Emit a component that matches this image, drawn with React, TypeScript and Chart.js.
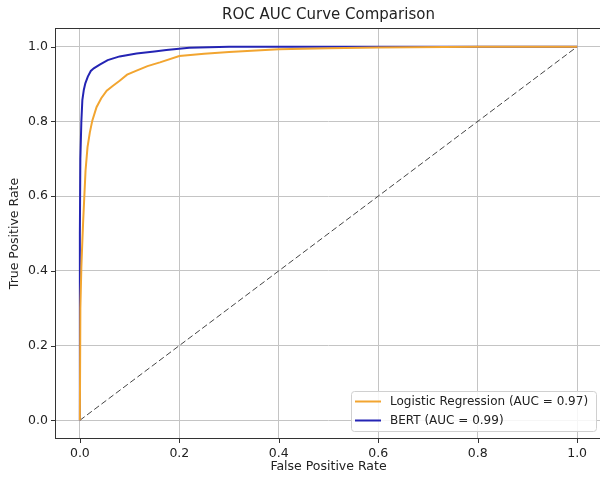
import React, { useEffect, useRef } from "react";
import { Chart, registerables } from "chart.js";

Chart.register(...registerables);

const lrFpr = [0, 0.001, 0.003, 0.005, 0.0067, 0.0114, 0.0154, 0.02, 0.025, 0.0335, 0.043, 0.054, 0.066, 0.08, 0.095, 0.114, 0.136, 0.161, 0.2, 0.25, 0.3, 0.4, 0.5, 0.6, 0.8, 1.0];
const lrTpr = [0, 0.3, 0.41, 0.48, 0.535, 0.668, 0.731, 0.77, 0.802, 0.838, 0.862, 0.882, 0.895, 0.909, 0.925, 0.936, 0.948, 0.958, 0.975, 0.981, 0.986, 0.993, 0.996, 0.998, 1.0, 1.0];

const bertFpr = [0, 0, 0.001, 0.003, 0.005, 0.008, 0.011, 0.016, 0.022, 0.028, 0.04, 0.056, 0.08, 0.114, 0.15, 0.174, 0.22, 0.3, 0.5, 1.0];
const bertTpr = [0, 0.5, 0.7, 0.8, 0.857, 0.885, 0.902, 0.92, 0.935, 0.942, 0.952, 0.964, 0.974, 0.982, 0.987, 0.991, 0.997, 1.0, 1.0, 1.0];

const diagX = [0, 1];
const diagY = [0, 1];

const tickValues = [0, 0.2, 0.4, 0.6, 0.8, 1.0];

const seriesNames = ["Logistic Regression (AUC = 0.97)", "BERT (AUC = 0.99)"];
const seriesColors = ["#f2a530", "#2424b4"];

const titleText = "ROC AUC Curve Comparison";
const xTitle = "False Positive Rate";
const yTitle = "True Positive Rate";

const FONT = "'DejaVu Sans', sans-serif";
const TXT = "#222";

const zip = (xs: number[], ys: number[]) => xs.map((x, i) => ({ x, y: ys[i] }));

const decor = {
  id: "decor",
  afterDraw(chart: any) {
    const { ctx, chartArea: a, scales } = chart;
    ctx.save();
    ctx.strokeStyle = "#333";
    ctx.lineWidth = 1;
    ctx.strokeRect(a.left + 0.5, a.top + 0.5, a.right - a.left - 1, a.bottom - a.top - 1);
    ctx.beginPath();
    for (const v of tickValues) {
      const x = Math.round(scales.x.getPixelForValue(v)) + 0.5;
      ctx.moveTo(x, a.bottom);
      ctx.lineTo(x, a.bottom + 4);
      const y = Math.round(scales.y.getPixelForValue(v)) + 0.5;
      ctx.moveTo(a.left, y);
      ctx.lineTo(a.left - 4, y);
    }
    ctx.stroke();
    ctx.fillStyle = TXT;
    ctx.textAlign = "center";
    ctx.textBaseline = "middle";
    const cx = (a.left + a.right) / 2;
    ctx.font = `15px ${FONT}`;
    ctx.fillText(titleText, cx, 15);
    ctx.font = `12.5px ${FONT}`;
    ctx.fillText(xTitle, cx, 467);
    ctx.save();
    ctx.translate(15, (a.top + a.bottom) / 2);
    ctx.rotate(-Math.PI / 2);
    ctx.fillText(yTitle, 0, 0);
    ctx.restore();
    const bx = 351, by = 391.5, bw = 245, bh = 40;
    ctx.fillStyle = "rgba(255,255,255,0.85)";
    ctx.strokeStyle = "#d0d0d0";
    ctx.lineWidth = 1;
    ctx.beginPath();
    ctx.roundRect(bx + 0.5, by, bw, bh, 3);
    ctx.fill();
    ctx.stroke();
    ctx.textAlign = "left";
    ctx.font = `12px ${FONT}`;
    seriesNames.forEach((name, i) => {
      const y = 401.5 + i * 19;
      ctx.strokeStyle = seriesColors[i];
      ctx.lineWidth = 2;
      ctx.beginPath();
      ctx.moveTo(355, y);
      ctx.lineTo(381, y);
      ctx.stroke();
      ctx.fillStyle = TXT;
      ctx.fillText(name, 390, y + 0.5);
    });
    ctx.restore();
  },
};

export default function App() {
  const ref = useRef<HTMLCanvasElement | null>(null);
  useEffect(() => {
    document.documentElement.style.overflow = "hidden";
    document.body.style.overflow = "hidden";
    const chart = new Chart(ref.current as HTMLCanvasElement, {
      type: "scatter",
      data: {
        datasets: [
          {
            label: seriesNames[0],
            data: zip(lrFpr, lrTpr),
            showLine: true,
            borderColor: seriesColors[0],
            borderWidth: 2,
            pointRadius: 0,
            tension: 0,
          },
          {
            label: seriesNames[1],
            data: zip(bertFpr, bertTpr),
            showLine: true,
            borderColor: seriesColors[1],
            borderWidth: 2,
            pointRadius: 0,
            tension: 0,
          },
          {
            label: "diag",
            data: zip(diagX, diagY),
            showLine: true,
            borderColor: "#444",
            borderWidth: 1,
            borderDash: [6, 3],
            pointRadius: 0,
          },
        ],
      },
      options: {
        responsive: false,
        animation: false,
        layout: { padding: { top: 28, right: 0, left: 0, bottom: 0 } },
        plugins: { legend: { display: false }, tooltip: { enabled: false }, title: { display: false } },
        scales: {
          x: {
            type: "linear",
            min: -0.05,
            max: 1.05,
            afterBuildTicks: (s: any) => {
              s.ticks = tickValues.map((v) => ({ value: v }));
            },
            afterFit: (s: any) => {
              s.height = 41;
            },
            ticks: {
              padding: 7,
              color: TXT,
              font: { family: FONT, size: 12.5 },
              callback: (v: any) => Number(v).toFixed(1),
              maxRotation: 0,
            },
            grid: { color: "#c4c4c4", lineWidth: 1, drawTicks: false },
            border: { display: false },
          },
          y: {
            type: "linear",
            min: -0.05,
            max: 1.05,
            afterBuildTicks: (s: any) => {
              s.ticks = tickValues.map((v) => ({ value: v }));
            },
            afterFit: (s: any) => {
              s.width = 55;
            },
            ticks: {
              padding: 7,
              color: TXT,
              font: { family: FONT, size: 12.5 },
              callback: (v: any) => Number(v).toFixed(1),
            },
            grid: { color: "#c4c4c4", lineWidth: 1, drawTicks: false },
            border: { display: false },
          },
        },
      },
      plugins: [decor],
    });
    return () => chart.destroy();
  }, []);
  return (
    <div style={{ position: "fixed", left: 0, top: 0, width: 602, height: 480, background: "#fff" }}>
      <canvas ref={ref} width={602} height={480} style={{ display: "block" }} />
    </div>
  );
}
